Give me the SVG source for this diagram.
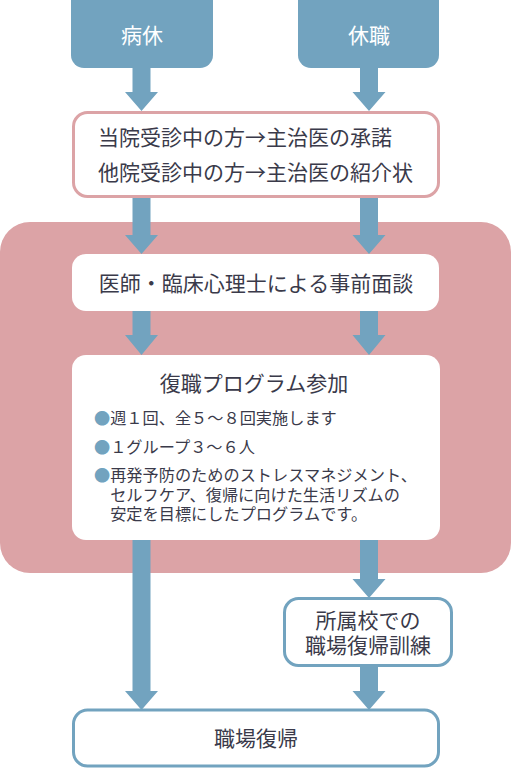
<svg xmlns="http://www.w3.org/2000/svg" width="511" height="769" viewBox="0 0 511 769">
<style>
text{font-family:"Noto Sans CJK JP","Noto Sans",sans-serif;fill:#3a3a4a}
.t{font-size:21px}
.w{fill:#ffffff;font-size:21px}
.s{font-size:16.2px}
.b{fill:#72a3bf}
.arr{fill:#72a3bf}
.blue{fill:#72a3bf}
.pinkbox{fill:#ffffff;stroke:#dca3a6;stroke-width:3}
.bluebox{fill:#ffffff;stroke:#72a3bf;stroke-width:3}
.white{fill:#ffffff}
</style>
<rect id="bg" x="0" y="222" width="511" height="351" rx="30" fill="#dca3a6"/>
<g id="connectors">
<polygon class="arr" points="132.5,66 150.5,66 150.5,92 158,92 141.5,111 125,92 132.5,92"/>
<polygon class="arr" points="360,66 378,66 378,92 385.5,92 369,111 352.5,92 360,92"/>
<polygon class="arr" points="132.5,197 150.5,197 150.5,235 158,235 141.5,254 125,235 132.5,235"/>
<polygon class="arr" points="360,197 378,197 378,235 385.5,235 369,254 352.5,235 360,235"/>
<polygon class="arr" points="132.5,311 150.5,311 150.5,335 158,335 141.5,355 125,335 132.5,335"/>
<polygon class="arr" points="360,311 378,311 378,335 385.5,335 369,355 352.5,335 360,335"/>
<polygon class="arr" points="132.5,540 150.5,540 150.5,691 158,691 141.5,710 125,691 132.5,691"/>
<polygon class="arr" points="360,540 378,540 378,579 385.5,579 369,598 352.5,579 360,579"/>
<polygon class="arr" points="360,666 378,666 378,691 385.5,691 369,710 352.5,691 360,691"/>
</g>
<g id="n1">
<rect class="blue" x="71" y="-12" width="142" height="80" rx="13"/>
<text class="w" x="142" y="42.5" text-anchor="middle">病休</text>
</g>
<g id="n2">
<rect class="blue" x="298" y="-12" width="141" height="80" rx="13"/>
<text class="w" x="369" y="42.5" text-anchor="middle">休職</text>
</g>
<g id="n3">
<rect class="pinkbox" x="73.5" y="112.5" width="365" height="84" rx="14"/>
<text class="t" x="98" y="145">当院受診中の方→主治医の承諾<tspan x="98" dy="35">他院受診中の方→主治医の紹介状</tspan></text>
</g>
<g id="n4">
<rect class="white" x="72" y="254" width="367" height="57" rx="14"/>
<text class="t" x="256" y="291" text-anchor="middle">医師・臨床心理士による事前面談</text>
</g>
<g id="n5">
<rect class="white" x="72" y="355" width="368" height="185" rx="14"/>
<text class="t" x="254" y="391" text-anchor="middle">復職プログラム参加</text>
<text class="s" x="94" y="424"><tspan class="b">●</tspan>週１回、全５～８回実施します</text>
<text class="s" x="94" y="453"><tspan class="b">●</tspan>１グループ３～６人</text>
<text class="s" x="94" y="481"><tspan class="b">●</tspan>再発予防のためのストレスマネジメント、<tspan x="110.2" dy="20">セルフケア、復帰に向けた生活リズムの</tspan><tspan x="110.2" dy="19">安定を目標にしたプログラムです。</tspan></text>
</g>
<g id="n6">
<rect class="bluebox" x="284.5" y="598.5" width="167" height="67" rx="14"/>
<text class="t" x="368" y="628" text-anchor="middle">所属校での<tspan x="368" dy="25">職場復帰訓練</tspan></text>
</g>
<g id="n7">
<rect class="bluebox" x="73.5" y="710" width="365" height="56" rx="14"/>
<text class="t" x="256" y="746" text-anchor="middle">職場復帰</text>
</g>
</svg>
